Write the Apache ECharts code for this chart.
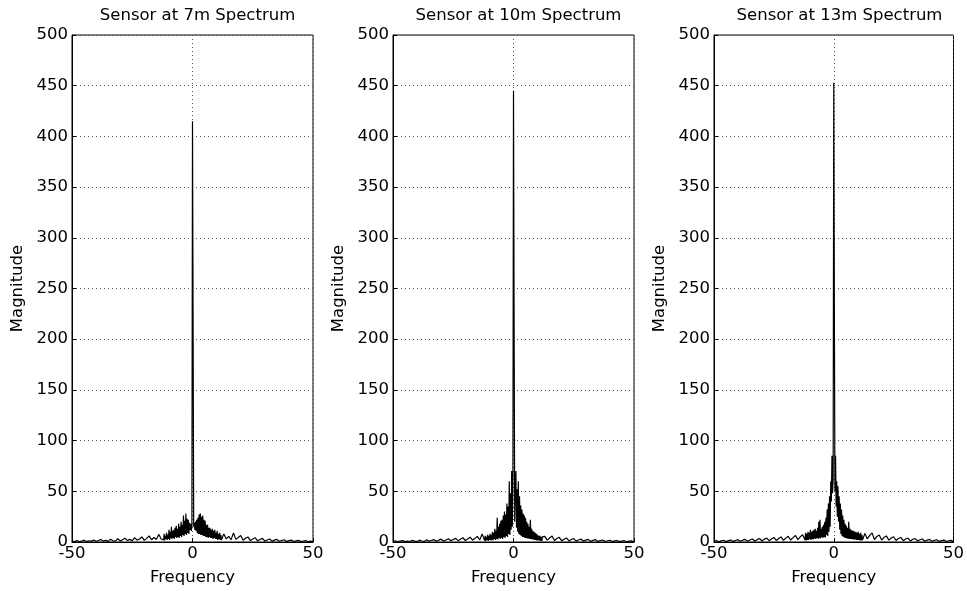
<!DOCTYPE html>
<html>
<head>
<meta charset="utf-8">
<script src="https://cdn.jsdelivr.net/npm/echarts@6/dist/echarts.min.js"></script>
<style>html,body{margin:0;padding:0;background:#fff}#c{width:967px;height:591px}</style>
</head>
<body>
<div id="c"></div>
<script>
// Frequency grid (coarse tails, fine core)
const freqTailLeft = [-50,-49,-48,-47,-46,-45,-44,-43,-42,-41,-40,-39,-38,-37,-36,-35,-34,-33,-32,-31,-30,-29,-28,-27,-26,-25,-24,-23,-22,-21,-20,-19,-18,-17,-16,-15,-14,-13];
const freqCore = [-12,-11.75,-11.5,-11.25,-11,-10.75,-10.5,-10.25,-10,-9.75,-9.5,-9.25,-9,-8.75,-8.5,-8.25,-8,-7.75,-7.5,-7.25,-7,-6.75,-6.5,-6.25,-6,-5.75,-5.5,-5.25,-5,-4.75,-4.5,-4.25,-4,-3.75,-3.5,-3.25,-3,-2.75,-2.5,-2.25,-2,-1.75,-1.5,-1.25,-1,-0.75,-0.5,-0.25,0,0.25,0.5,0.75,1,1.25,1.5,1.75,2,2.25,2.5,2.75,3,3.25,3.5,3.75,4,4.25,4.5,4.75,5,5.25,5.5,5.75,6,6.25,6.5,6.75,7,7.25,7.5,7.75,8,8.25,8.5,8.75,9,9.25,9.5,9.75,10,10.25,10.5,10.75,11,11.25,11.5,11.75,12];
const freqTailRight = [13,14,15,16,17,18,19,20,21,22,23,24,25,26,27,28,29,30,31,32,33,34,35,36,37,38,39,40,41,42,43,44,45,46,47,48,49,50];

// Sensor at 7m
const mag7Left = [0.8,0.3,1.5,0.5,0.9,1.8,0.4,1.2,0.6,2,0.7,1.4,2.4,0.8,1.6,0.6,2.8,1.2,0.9,3.2,1.1,2.2,3.8,1.4,2.6,1.2,4.2,1.8,3,5,1.6,3.6,6,2.2,4.4,2.4,7.5,3];
const mag7Core = [2,8,1.5,6, 3,9,2,7, 3,12,2,10, 4,15,3,11, 4,12,3,14, 5,16,4,13, 5,18,4,15, 6,20,5,17, 7,26,6,21, 8,28,7,23, 9,22,8,19, 12,18,11,16,
  415,213,15,19, 12,20,11,22, 9,24,8,27, 8,28,7,25, 7,26,6,22, 6,21,5,17, 5,17,4,14, 5,14,4,12, 4,13,3,11, 4,12,3,9, 3,11,2,8, 3,9,2,7, 2];
const mag7Right = [8,3,5.5,2.2,9,2.6,4.4,6.5,1.8,3.6,5,1.4,3,4.2,1.2,2.4,3.6,1,2,3,0.9,1.8,2.6,0.7,1.5,2.2,0.6,1.3,1.9,0.5,1.1,1.6,0.4,1,1.4,0.3,0.8,0.5];

// Sensor at 10m
const mag10Left = [0.6,1.2,0.3,0.9,1.4,0.4,1,0.5,1.6,0.8,0.4,1.8,1,0.6,2.2,0.8,1.5,2.4,0.7,1.8,2.8,1,2,3.2,1.2,2.4,3.6,1.3,2.8,4.2,1.5,3,4.8,1.8,3.6,5.5,2,8];
const mag10Core = [1.5,6,1,5, 2,7,1,6, 2,8,1.5,7, 2,10,1.5,9, 3,13,2,11, 3,24,2.5,15, 4,18,3,21, 4,22,3,26, 5,30,4,27, 6,38,5,35, 8,60,7,48, 12,70,15,55,
  445,225,20,58, 70,14,52,10, 60,8,45,7, 36,6,32,5, 28,5,26,4, 24,4,20,3.5, 18,3.5,15,3, 22,3,13,2.5, 11,2.5,10,2, 9,2,8,1.5, 7,1.5,6,1.5, 6,1,5,1, 5];
const mag10Right = [5.5,1.8,4,6,1.5,3.4,4.6,1.2,2.8,4,1,2.4,3.4,0.9,2,3,0.8,1.8,2.6,0.7,1.6,2.3,0.6,1.4,2,0.5,1.2,1.7,0.4,1.1,1.5,0.4,0.9,1.3,0.3,0.8,1.1,0.3];

// Sensor at 13m
const mag13Left = [0.7,1.4,0.3,1.1,1.7,0.5,1.3,2,0.6,1.5,2.3,0.7,1.8,2.6,0.8,2,3,1,2.3,3.4,1.1,2.6,3.9,1.3,3,4.5,1.5,3.4,5,1.7,3.8,5.6,2,4.3,6.4,2.3,5,7.2];
const mag13Core = [2,9,1.5,8, 2,10,2,9, 3,12,2,10, 3,11,2.5,12, 3.5,13,3,11, 4,14,3,20, 4,22,3.5,13, 5,15,4,17, 5,20,4.5,24, 7,32,6,38, 10,45,15,60, 40,85,48,62,
  453,233,50,85, 35,60,25,55, 20,45,12,38, 8,32,6,26, 5,22,4.5,18, 4,16,3.5,14, 3.5,20,3,13, 3,12,3,11, 2.5,11,2.5,10, 2.5,10,2,9, 2,10,2,8, 1.5,9,1.5,7, 2];
const mag13Right = [8.5,3,6.5,9,2.4,5.5,7,2,4.6,6,1.8,4,5.2,1.5,3.4,4.5,1.3,3,3.9,1.1,2.6,3.4,1,2.2,3,0.8,1.9,2.6,0.7,1.6,2.2,0.6,1.4,1.9,0.5,1.2,1.6,0.4];

const titles = ['Sensor at 7m Spectrum', 'Sensor at 10m Spectrum', 'Sensor at 13m Spectrum'];
const xTicks = [-50, 0, 50];
const yTicks = [0,50,100,150,200,250,300,350,400,450,500];

const freq = freqTailLeft.concat(freqCore, freqTailRight);
const mags = [
  mag7Left.concat(mag7Core, mag7Right),
  mag10Left.concat(mag10Core, mag10Right),
  mag13Left.concat(mag13Core, mag13Right)
];

const FONT = '"DejaVu Sans", sans-serif';
const FS = 16.5;
const lefts = [72, 393, 714];
const W = 241;
const grids = [], xAxes = [], yAxes = [], series = [], tls = [];
for (let i = 0; i < 3; i++) {
  grids.push({left: lefts[i], top: 35, width: W, height: 509, show: true, borderColor: '#000', borderWidth: 1, containLabel: false});
  tls.push({text: titles[i], left: lefts[i] + W / 2, top: 2, textAlign: 'center',
    textStyle: {fontFamily: FONT, fontSize: FS, fontWeight: 'normal', color: '#000'}});
  xAxes.push({type: 'value', gridIndex: i, min: xTicks[0], max: xTicks[2], interval: 50,
    name: 'Frequency', nameLocation: 'middle', nameGap: 27,
    nameTextStyle: {fontFamily: FONT, fontSize: FS, color: '#000'},
    axisLine: {show: true, onZero: false, lineStyle: {color: '#000', width: 1}},
    axisTick: {show: true, inside: true, length: 4, lineStyle: {color: '#000'}},
    axisLabel: {fontFamily: FONT, fontSize: FS, color: '#000', margin: 3},
    splitLine: {show: true, lineStyle: {type: [1, 3], color: '#555', width: 1}}});
  yAxes.push({type: 'value', gridIndex: i, min: yTicks[0], max: yTicks[yTicks.length - 1], interval: 50,
    name: 'Magnitude', nameLocation: 'middle', nameGap: 46,
    nameTextStyle: {fontFamily: FONT, fontSize: FS, color: '#000'},
    axisLine: {show: true, onZero: false, lineStyle: {color: '#000', width: 1}},
    axisTick: {show: true, inside: true, length: 4, lineStyle: {color: '#000'}},
    axisLabel: {fontFamily: FONT, fontSize: FS, color: '#000', margin: 4},
    splitLine: {show: true, lineStyle: {type: [1, 3], color: '#555', width: 1}}});
  series.push({type: 'line', xAxisIndex: i, yAxisIndex: i, showSymbol: false, symbol: 'none',
    data: freq.map((f, k) => [f, mags[i][k]]),
    lineStyle: {color: '#000', width: 1.2}, sampling: null});
}

const chart = echarts.init(document.getElementById('c'), null, {renderer: 'canvas'});
chart.setOption({
  animation: false,
  backgroundColor: '#fff',
  title: tls,
  grid: grids,
  xAxis: xAxes,
  yAxis: yAxes,
  series: series
});
</script>
</body>
</html>
